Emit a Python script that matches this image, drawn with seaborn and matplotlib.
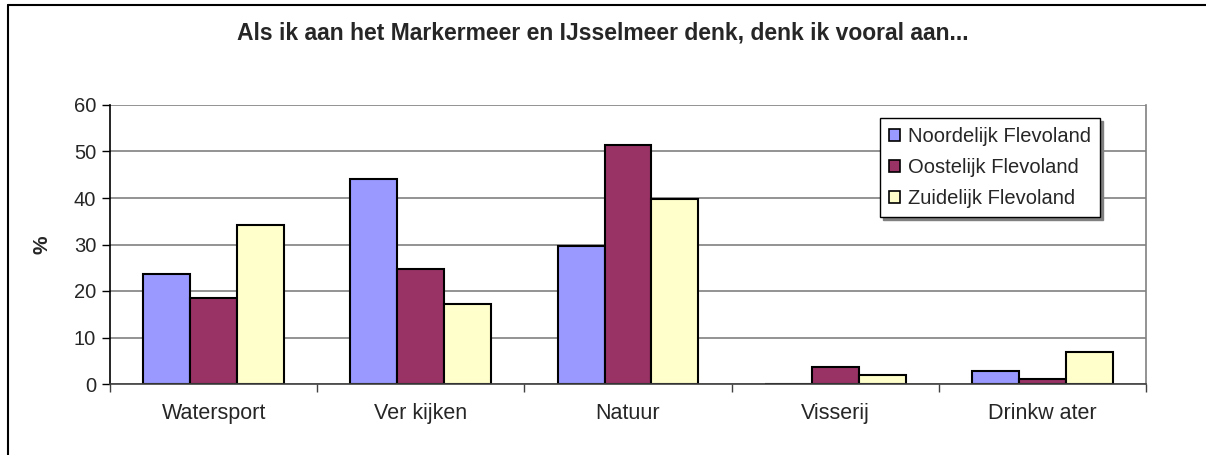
import numpy as np
import pandas as pd
import seaborn as sns
import matplotlib.pyplot as plt
from matplotlib.lines import Line2D
from matplotlib.patches import Patch

categories = ['Watersport', 'Ver kijken', 'Natuur', 'Visserij', 'Drinkw ater']
regions = ['Noordelijk Flevoland', 'Oostelijk Flevoland', 'Zuidelijk Flevoland']
noord = [23.6, 44.1, 29.6, 0.0, 2.8]
oost = [18.4, 24.8, 51.4, 3.7, 1.1]
zuid = [34.2, 17.1, 39.8, 2.0, 6.8]
colors = ['#9999FF', '#993366', '#FFFFCC']

rows = []
for reg, vals in zip(regions, [noord, oost, zuid]):
    for cat, v in zip(categories, vals):
        rows.append({'cat': cat, 'regio': reg, 'pct': v})
df = pd.DataFrame(rows)

sns.set_style('white')
plt.rcParams['font.family'] = ['Liberation Sans', 'DejaVu Sans']

fig = plt.figure(figsize=(12.06, 4.55), dpi=100)
ax = fig.add_axes([110/1206, 1-384/455, (1146-110)/1206, (384-105)/455])

sns.barplot(ax=ax, data=df, x='cat', y='pct', hue='regio', order=categories,
            hue_order=regions, palette=colors, width=0.68, gap=0,
            edgecolor='black', linewidth=1.5, saturation=1, errorbar=None)

ax.set_ylim(0, 60)
ax.set_xlim(-0.5, 4.5)
ax.set_yticks(range(0, 61, 10))
ax.yaxis.grid(True, color='#808080', linewidth=1.2)
ax.set_axisbelow(True)
ax.tick_params(axis='y', left=True, length=6, width=1, labelsize=14.5, pad=4, color='black')
ax.tick_params(axis='x', which='major', length=0, labelsize=15.5, pad=14)
ax.set_xticks(np.arange(-0.5, 5, 1), minor=True)
ax.tick_params(axis='x', which='minor', bottom=True, length=6, width=1, color='#404040')
ax.set_xlabel('')
ax.set_ylabel('%', fontsize=15, fontweight='bold', labelpad=16)

ax.spines['left'].set_color('black')
ax.spines['left'].set_linewidth(1.2)
ax.spines['bottom'].set_color('#404040')
ax.spines['bottom'].set_linewidth(1.2)
ax.spines['right'].set_color('#808080')
ax.spines['right'].set_linewidth(1.2)
ax.spines['top'].set_visible(False)

ax.get_legend().remove()
handles = [Patch(facecolor=c, edgecolor='black', linewidth=1.2) for c in colors]
leg = ax.legend(handles, regions, loc='upper right', bbox_to_anchor=(1100/1206, 1-118/455),
                bbox_transform=fig.transFigure, fontsize=14.5, frameon=True, fancybox=False,
                shadow={'color': '#808080', 'alpha': 1}, edgecolor='black', handlelength=0.55,
                handleheight=0.55, handletextpad=0.4, labelspacing=0.6, borderpad=0.45,
                borderaxespad=0)
leg.get_frame().set_linewidth(1)

fig.text(0.5, 1-33/455, 'Als ik aan het Markermeer en IJsselmeer denk, denk ik vooral aan...',
         ha='center', va='center', fontsize=16.5, fontweight='bold')

# outer chart frame
fig.add_artist(Line2D([8/1206, 1], [1-5/455, 1-5/455], color='black', linewidth=1.5))
fig.add_artist(Line2D([8/1206, 8/1206], [0, 1-5/455], color='black', linewidth=1.5))

fig.savefig('out.png', dpi=100)
